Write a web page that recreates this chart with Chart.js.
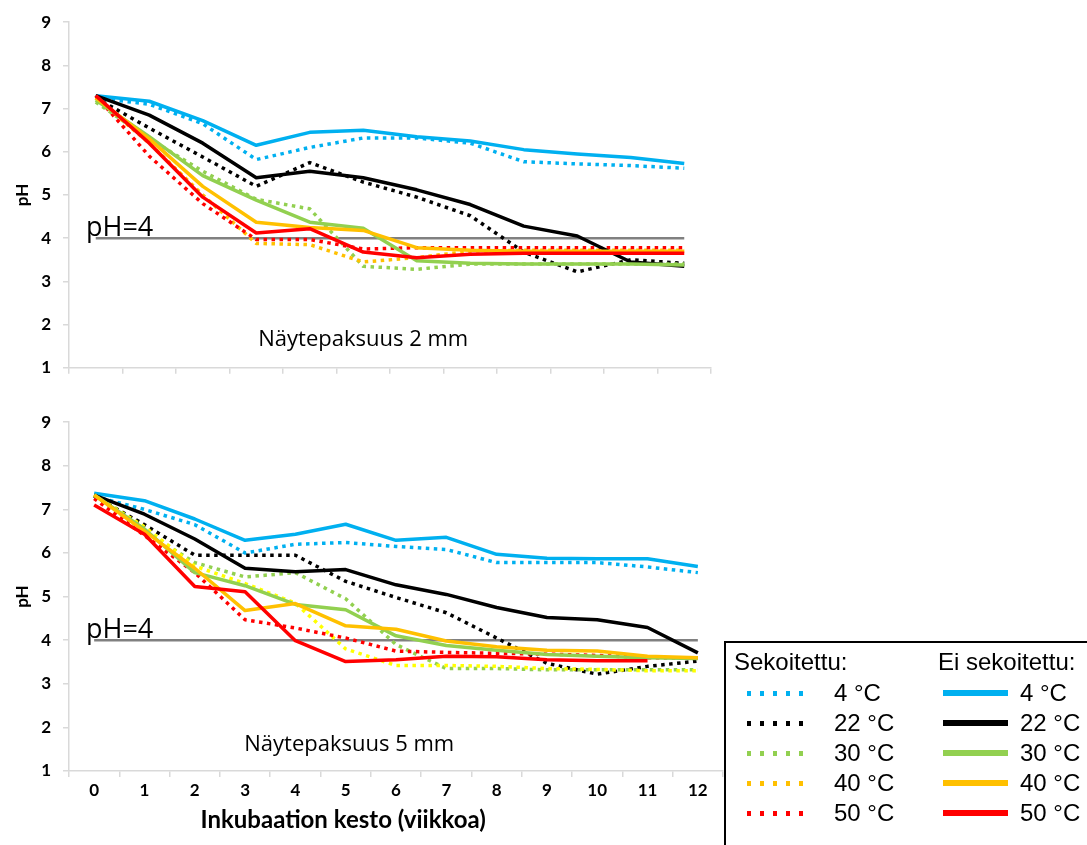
<!DOCTYPE html>
<html lang="fi">
<head>
<meta charset="utf-8">
<title>pH inkubaation aikana</title>
<script src="https://cdn.jsdelivr.net/npm/chart.js@4.4.1/dist/chart.umd.min.js"></script>
<style>
    html, body { margin: 0; padding: 0; background: #fff; overflow: hidden; }
    body { width: 1087px; height: 845px; position: relative; }
    .panel { position: absolute; left: 0; }
    #panelTop { top: 0; width: 730px; height: 390px; }
    #panelBottom { top: 400px; width: 730px; height: 445px; }
    .legend-box {
        position: absolute; left: 724px; top: 641px; width: 400px; height: 260px;
        border: 2px solid #000; box-sizing: border-box;
        font-family: "Liberation Sans", Arial, sans-serif; font-size: 24px; color: #000;
    }
    .legend-col { position: absolute; top: 3px; }
    .legend-head { height: 32px; line-height: 32px; }
    .legend-row { height: 30px; display: flex; align-items: center; }
    .swatch { width: 65px; height: 5px; margin-left: 13px; margin-right: 22px; }
    .legend-col.solid .swatch { margin-left: 5px; margin-right: 12px; height: 6px; }
</style>
</head>
<body>
<div class="panel" id="panelTop"><canvas id="chartTop"></canvas></div>
<div class="panel" id="panelBottom"><canvas id="chartBottom"></canvas></div>
<div class="legend-box" id="legendBox"></div>

<script>
// Weeks of incubation
const weeksTop = ['0', '1', '2', '3', '4', '5', '6', '7', '8', '9', '10', '11'];
const weeksBottom = ['0', '1', '2', '3', '4', '5', '6', '7', '8', '9', '10', '11', '12'];

const tempLabels = ['4 °C', '22 °C', '30 °C', '40 °C', '50 °C'];
const tempColors = ['#00B0F0', '#000000', '#92D050', '#FFC000', '#FF0000'];
const dottedColorsBottom = ['#00B0F0', '#000000', '#92D050', '#FFFF00', '#FF0000'];

// Sample thickness 2 mm, mixed (sekoitettu)
const mixed2mm4 = [7.25, 7.1, 6.65, 5.82, 6.1, 6.32, 6.32, 6.2, 5.77, 5.72, 5.68, 5.62];
const mixed2mm22 = [7.25, 6.55, 5.88, 5.2, 5.75, 5.3, 4.95, 4.52, 3.68, 3.22, 3.5, 3.42];
const mixed2mm30 = [7.15, 6.3, 5.55, 4.9, 4.68, 3.35, 3.28, 3.4, 3.4, 3.4, 3.4, 3.4];
const mixed2mm40 = [7.25, 6.2, 5.0, 3.88, 3.85, 3.45, 3.55, 3.7, 3.72, 3.72, 3.72, 3.72];
const mixed2mm50 = [7.3, 5.9, 4.8, 3.97, 3.97, 3.75, 3.78, 3.78, 3.78, 3.78, 3.78, 3.78];
// Sample thickness 2 mm, not mixed (ei sekoitettu)
const unmixed2mm4 = [7.3, 7.17, 6.72, 6.15, 6.45, 6.5, 6.35, 6.25, 6.05, 5.95, 5.87, 5.73];
const unmixed2mm22 = [7.3, 6.85, 6.2, 5.4, 5.55, 5.4, 5.12, 4.78, 4.28, 4.05, 3.45, 3.35];
const unmixed2mm30 = [7.2, 6.35, 5.45, 4.88, 4.37, 4.23, 3.48, 3.42, 3.4, 3.4, 3.4, 3.38];
const unmixed2mm40 = [7.25, 6.3, 5.2, 4.37, 4.25, 4.18, 3.78, 3.72, 3.7, 3.7, 3.7, 3.7];
const unmixed2mm50 = [7.3, 6.2, 4.95, 4.12, 4.22, 3.68, 3.55, 3.63, 3.65, 3.65, 3.65, 3.65];

// Sample thickness 5 mm, mixed
const mixed5mm4 = [7.3, 7.0, 6.65, 6.0, 6.2, 6.24, 6.15, 6.08, 5.78, 5.78, 5.78, 5.68, 5.55];
const mixed5mm22 = [7.3, 6.65, 5.95, 5.95, 5.95, 5.35, 4.98, 4.63, 4.05, 3.47, 3.22, 3.4, 3.52];
const mixed5mm30 = [7.33, 6.5, 5.78, 5.45, 5.55, 4.95, 3.9, 3.35, 3.35, 3.32, 3.32, 3.32, 3.32];
const mixed5mm40 = [7.33, 6.6, 5.7, 5.3, 4.85, 3.8, 3.42, 3.42, 3.4, 3.35, 3.33, 3.3, 3.3];
const mixed5mm50 = [7.25, 6.4, 5.55, 4.47, 4.28, 4.05, 3.75, 3.72, 3.7, 3.68, 3.65, 3.6, 3.6];
// Sample thickness 5 mm, not mixed
const unmixed5mm4 = [7.37, 7.2, 6.78, 6.29, 6.43, 6.66, 6.29, 6.36, 5.97, 5.88, 5.87, 5.87, 5.69];
const unmixed5mm22 = [7.33, 6.89, 6.32, 5.65, 5.57, 5.62, 5.27, 5.05, 4.75, 4.52, 4.47, 4.29, 3.71];
const unmixed5mm30 = [7.33, 6.55, 5.55, 5.25, 4.82, 4.7, 4.1, 3.88, 3.77, 3.67, 3.63, 3.6, 3.58];
const unmixed5mm40 = [7.33, 6.5, 5.65, 4.68, 4.84, 4.33, 4.25, 3.98, 3.85, 3.77, 3.75, 3.63, 3.6];
const unmixed5mm50 = [7.1, 6.43, 5.23, 5.11, 3.99, 3.51, 3.55, 3.63, 3.62, 3.55, 3.53, 3.53, null];

const PH_LIMIT = 4;

const CALIBRI = 'Lato, "Open Sans", sans-serif';
const SEGOE = '"Open Sans", sans-serif';

// Draws free text (pH=4 label, panel caption, axis title) in scale units
const panelNotes = {
    id: 'panelNotes',
    afterDraw(chart, args, opts) {
        const { ctx, chartArea } = chart;
        const { x, y } = chart.scales;
        (opts.items || []).forEach(n => {
            ctx.save();
            ctx.font = n.font;
            ctx.fillStyle = '#000';
            ctx.textAlign = n.align || 'center';
            ctx.textBaseline = n.baseline || 'middle';
            const px = n.dx != null ? chartArea.left + n.dx : x.getPixelForValue(n.x);
            const py = n.below != null ? chartArea.bottom + n.below : y.getPixelForValue(n.y);
            ctx.fillText(n.text, px, py);
            ctx.restore();
        });
    }
};

function buildDatasets(labels, mixed, unmixed, dottedColors) {
    const sets = [{
        label: 'pH=4',
        data: labels.map(() => PH_LIMIT),
        borderColor: '#808080',
        borderWidth: 2.5
    }];
    mixed.forEach((d, i) => sets.push({
        label: 'Sekoitettu ' + tempLabels[i],
        data: d,
        borderColor: dottedColors[i],
        borderWidth: 3.5,
        borderDash: [3.5, 4.5]
    }));
    unmixed.forEach((d, i) => sets.push({
        label: 'Ei sekoitettu ' + tempLabels[i],
        data: d,
        borderColor: tempColors[i],
        borderWidth: 3.5
    }));
    // later series are painted on top
    return sets.map((s, i) => Object.assign(s, {
        order: sets.length - i,
        pointRadius: 0,
        tension: 0,
        fill: false,
        borderCapStyle: 'butt',
        borderJoinStyle: 'round',
        spanGaps: false
    }));
}

function makeChart(canvasId, labels, datasets, opts) {
    const tickFont = { family: CALIBRI, size: 17, weight: 'bold' };
    return new Chart(document.getElementById(canvasId), {
        type: 'line',
        data: { labels, datasets },
        plugins: [panelNotes],
        options: {
            responsive: true, maintainAspectRatio: false, animation: false,
            layout: { padding: { top: opts.padTop, right: opts.padRight, left: 0, bottom: 0 } },
            plugins: {
                legend: { display: false },
                tooltip: { enabled: false },
                panelNotes: { items: opts.notes }
            },
            scales: {
                x: {
                    type: 'category',
                    offset: true,
                    grid: { offset: true, drawOnChartArea: false, tickLength: 6, color: '#d9d9d9', lineWidth: 1.5 },
                    border: { color: '#d9d9d9', width: 1.5 },
                    ticks: { display: opts.showX, color: '#000', font: tickFont, padding: 3, maxRotation: 0, autoSkip: false },
                    afterFit: s => { s.height = opts.xHeight; }
                },
                y: {
                    min: 1, max: 9,
                    grid: { drawOnChartArea: false, tickLength: 6, color: '#d9d9d9', lineWidth: 1.5 },
                    border: { color: '#d9d9d9', width: 1.5 },
                    ticks: { stepSize: 1, color: '#000', font: tickFont, padding: 12 },
                    title: { display: true, text: 'pH', color: '#000', font: { family: CALIBRI, size: 17, weight: 'bold' }, padding: { top: 12, bottom: 0 } },
                    afterFit: s => { s.width = 69; }
                }
            }
        }
    });
}

makeChart('chartTop', weeksTop,
    buildDatasets(weeksTop,
        [mixed2mm4, mixed2mm22, mixed2mm30, mixed2mm40, mixed2mm50],
        [unmixed2mm4, unmixed2mm22, unmixed2mm30, unmixed2mm40, unmixed2mm50],
        tempColors),
    {
        padTop: 20, padRight: 19, xHeight: 21, showX: false,
        notes: [
            { text: 'pH=4', dx: 17, y: 4.05, align: 'left', baseline: 'alphabetic', font: '27px ' + SEGOE },
            { text: 'Näytepaksuus 2 mm', x: 5.0, y: 1.65, font: '22px ' + SEGOE }
        ]
    });

makeChart('chartBottom', weeksBottom,
    buildDatasets(weeksBottom,
        [mixed5mm4, mixed5mm22, mixed5mm30, mixed5mm40, mixed5mm50],
        [unmixed5mm4, unmixed5mm22, unmixed5mm30, unmixed5mm40, unmixed5mm50],
        dottedColorsBottom),
    {
        padTop: 19, padRight: 7, xHeight: 74, showX: true,
        notes: [
            { text: 'pH=4', dx: 17, y: 4.05, align: 'left', baseline: 'alphabetic', font: '27px ' + SEGOE },
            { text: 'Näytepaksuus 5 mm', x: 5.07, y: 1.6, font: '22px ' + SEGOE },
            { text: 'Inkubaation kesto (viikkoa)', x: 4.95, below: 49, font: 'bold 24px ' + CALIBRI }
        ]
    });

// Two-column legend: mixed (dotted) and not mixed (solid)
function swatchStyle(color, dotted) {
    if (!dotted) return `background:${color}`;
    return `background:repeating-linear-gradient(90deg, ${color} 0 4.5px, transparent 4.5px 13px)`;
}

const legendBox = document.getElementById('legendBox');
legendBox.innerHTML = [
    { title: 'Sekoitettu:', cls: 'dotted', left: 8, dotted: true },
    { title: 'Ei sekoitettu:', cls: 'solid', left: 212, dotted: false }
].map(col => `
    <div class="legend-col ${col.cls}" style="left:${col.left}px">
        <div class="legend-head">${col.title}</div>
        ${tempLabels.map((t, i) => `
            <div class="legend-row"><span class="swatch" style="${swatchStyle(tempColors[i], col.dotted)}"></span>${t}</div>
        `).join('')}
    </div>
`).join('');
</script>
</body>
</html>
